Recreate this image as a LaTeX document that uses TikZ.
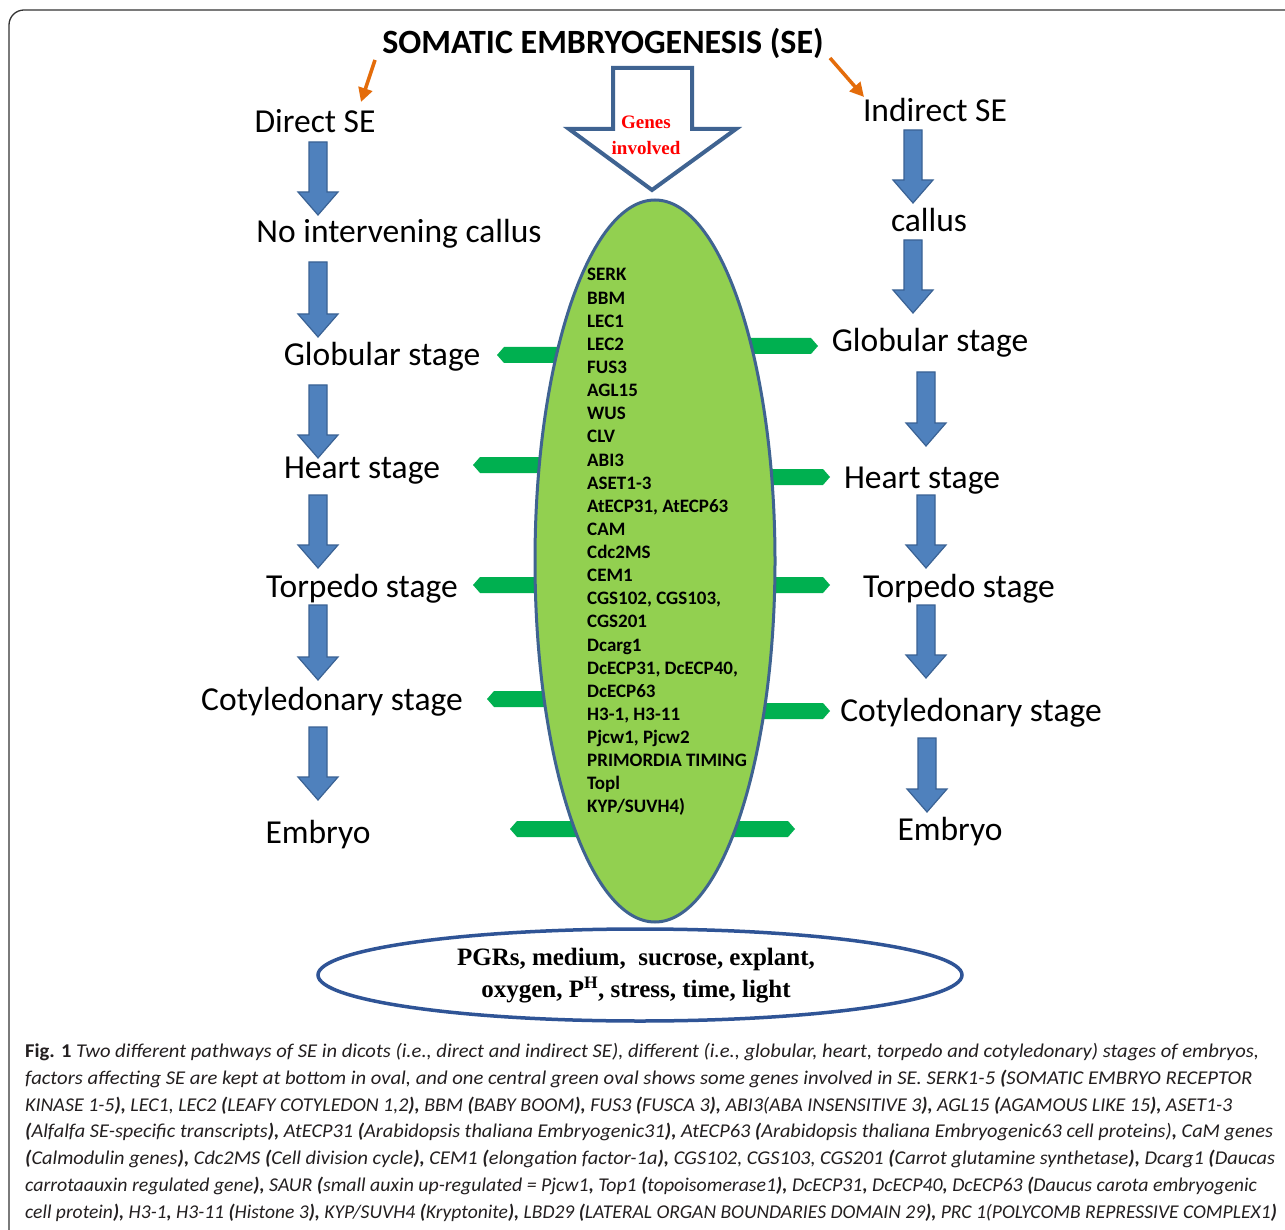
\documentclass[tikz,border=0pt]{standalone}
\usepackage{fontspec}
\setmainfont{Carlito}
\newfontfamily\tnr{Liberation Serif}
\usetikzlibrary{arrows.meta}
\definecolor{stblue}{HTML}{4F81BD}
\definecolor{stblueD}{HTML}{3A6294}
\definecolor{outlineB}{HTML}{3F6391}
\definecolor{ellG}{HTML}{92D050}
\definecolor{conG}{HTML}{00B050}
\definecolor{orng}{HTML}{E46C0A}
\definecolor{ovalB}{HTML}{2F5496}
\definecolor{capc}{HTML}{231F20}
\newcommand\bp[1]{{\bfseries #1}}
\newcommand\bluearrow[3]{%
  \draw[bluearr] (#1-9,#2) -- (#1+9,#2) -- (#1+9,#3-23) -- (#1+20,#3-23) -- (#1,#3)
    -- (#1-20,#3-23) -- (#1-9,#3-23) -- cycle;}
\newcommand\gconL[3]{%
  \fill[conG] (#1,#2) -- (#1+7,#2-8) -- (#3,#2-8) -- (#3,#2+8) -- (#1+7,#2+8) -- cycle;}
\newcommand\gconR[3]{%
  \fill[conG] (#1,#2) -- (#1-7,#2-8) -- (#3,#2-8) -- (#3,#2+8) -- (#1-7,#2+8) -- cycle;}
\begin{document}
\begin{tikzpicture}[x=1pt,y=-1pt,
  lbl/.style={font=\fontsize{33.5}{40}\selectfont, inner sep=0pt, text height=23pt, text depth=7pt},
  titlestyle/.style={font=\fontsize{34}{40}\selectfont\bfseries, inner sep=0pt},
  bluearr/.style={fill=stblue, draw=stblueD, line width=1.2pt, line join=miter},
  orarrow/.style={draw=orng, line width=3.5pt, -{Triangle[length=14pt,width=14pt]}},
  gene/.style={font=\fontsize{19}{23}\selectfont\bfseries, inner sep=0pt},
  captext/.style={font=\fontsize{19.5}{23}\selectfont\itshape, text=capc, inner sep=0pt}]
\useasboundingbox (0,0) rectangle (1285,1230);
\fill[white] (0,0) rectangle (1285,1230);
\draw[black!80, line width=1.3pt, rounded corners=15pt] (9,10) rectangle (1310,1245);

% title
\node[titlestyle] (title) at (603,43) {SOMATIC EMBRYOGENESIS (SE)};
\coordinate (oL1) at (375,60); \coordinate (oL2) at (361,102);
\coordinate (oR1) at (830,58); \coordinate (oR2) at (864,97);
\draw[orarrow] (oL1) -- (oL2);
\draw[orarrow] (oR1) -- (oR2);

% left column labels
\node[lbl] (direct) at (315,125) {Direct SE};
\node[lbl] (nocallus) at (399,235) {No intervening callus};
\node[lbl] (globL) at (382,358) {Globular stage};
\node[lbl] (heartL) at (362,470) {Heart stage};
\node[lbl] (torpL) at (362,589) {Torpedo stage};
\node[lbl] (cotyL) at (332,702) {Cotyledonary stage};
\node[lbl] (embL) at (318,835) {Embryo};
% right column labels
\node[lbl] (indirect) at (935,114) {Indirect SE};
\node[lbl] (callus) at (929,224) {callus};
\node[lbl] (globR) at (930,344) {Globular stage};
\node[lbl] (heartR) at (922,480) {Heart stage};
\node[lbl] (torpR) at (959,589) {Torpedo stage};
\node[lbl] (cotyR) at (971,713) {Cotyledonary stage};
\node[lbl] (embR) at (950,832) {Embryo};

% blue block arrows
\bluearrow{318}{142}{215}
\bluearrow{318}{262}{337}
\bluearrow{318}{385}{458}
\bluearrow{318}{495}{568}
\bluearrow{318}{605}{680}
\bluearrow{318}{727}{800}
\bluearrow{913}{130}{203}
\bluearrow{913}{240}{313}
\bluearrow{926}{372}{446}
\bluearrow{926}{495}{568}
\bluearrow{926}{605}{678}
\bluearrow{927}{738}{812}

% green connectors
\gconL{497}{355}{580}
\gconL{473}{465}{560}
\gconL{473}{585}{556}
\gconL{487}{699}{568}
\gconL{510}{829}{592}
\gconR{818}{346}{735}
\gconR{830}{477}{748}
\gconR{830}{585}{748}
\gconR{830}{711}{748}
\gconR{795}{829}{712}

% central green ellipse
\draw[fill=ellG, draw=outlineB, line width=3pt] (655,561) ellipse [x radius=120, y radius=361];
\foreach \g [count=\i] in {SERK, BBM, LEC1, LEC2, FUS3, AGL15, WUS, CLV, ABI3, ASET1-3,
  {AtECP31, AtECP63}, CAM, Cdc2MS, CEM1, {CGS102, CGS103,}, CGS201, Dcarg1,
  {DcECP31, DcECP40,}, DcECP63, {H3-1, H3-11}, {Pjcw1, Pjcw2}, PRIMORDIA TIMING, Topl, KYP/SUVH4)}
  \node[gene, anchor=base west] (g\i) at (587,{281+23.13*(\i-1)}) {\g};

% hollow arrow "Genes involved"
\draw[fill=white, draw=outlineB, line width=4pt, line join=miter]
  (613,68) -- (692,68) -- (692,129) -- (736,129) -- (652,190) -- (569,129) -- (613,129) -- cycle;
\node[font=\tnr\fontsize{19}{26}\selectfont\bfseries, text=red, align=center, inner sep=0pt] (genesinv) at (646,135) {Genes\\involved};

% bottom oval
\draw[fill=white, draw=ovalB, line width=3.5pt] (640,975) ellipse [x radius=322, y radius=46];
\node[font=\tnr\fontsize{25}{32}\selectfont\bfseries, align=center, inner sep=0pt] (factors) at (636,976)
  {PGRs, medium,\ \ sucrose, explant,\\oxygen, P\textsuperscript{H}, stress, time, light};

% caption
\node[captext, anchor=base west] (c1) at (25,1057) {\scalebox{1.055}[1]{{\upshape\bfseries Fig. 1} Two different pathways of SE in dicots (i.e., direct and indirect SE), different (i.e., globular, heart, torpedo and cotyledonary) stages of embryos,}};
\node[captext, anchor=base west] (c2) at (25,1084) {\scalebox{1.06}[1]{factors affecting SE are kept at bottom in oval, and one central green oval shows some genes involved in SE. SERK1-5 \bp{(}SOMATIC EMBRYO RECEPTOR}};
\node[captext, anchor=base west] (c3) at (25,1111) {\scalebox{1.023}[1]{KINASE 1-5\bp{),} LEC1, LEC2 \bp{(}LEAFY COTYLEDON 1,2\bp{),} BBM \bp{(}BABY BOOM\bp{),} FUS3 \bp{(}FUSCA 3\bp{),} ABI3(ABA INSENSITIVE 3\bp{),} AGL15 \bp{(}AGAMOUS LIKE 15\bp{),} ASET1-3}};
\node[captext, anchor=base west] (c4) at (25,1137) {\scalebox{1.042}[1]{\bp{(}Alfalfa SE-specific transcripts\bp{),} AtECP31 \bp{(}Arabidopsis thaliana Embryogenic31\bp{),} AtECP63 \bp{(}Arabidopsis thaliana Embryogenic63 cell proteins)\bp{,} CaM genes}};
\node[captext, anchor=base west] (c5) at (25,1164) {\scalebox{1.045}[1]{\bp{(}Calmodulin genes\bp{),} Cdc2MS \bp{(}Cell division cycle\bp{),} CEM1 \bp{(}elongation factor-1a\bp{),} CGS102, CGS103, CGS201 \bp{(}Carrot glutamine synthetase\bp{),} Dcarg1 \bp{(}Daucas}};
\node[captext, anchor=base west] (c6) at (25,1191) {\scalebox{1.017}[1]{carrotaauxin regulated gene\bp{),} SAUR \bp{(}small auxin up-regulated = Pjcw1\bp{,} Top1 \bp{(}topoisomerase1\bp{),} DcECP31\bp{,} DcECP40\bp{,} DcECP63 \bp{(}Daucus carota embryogenic}};
\node[captext, anchor=base west] (c7) at (25,1218) {\scalebox{1.004}[1]{cell protein\bp{),} H3-1\bp{,} H3-11 \bp{(}Histone 3\bp{),} KYP/SUVH4 \bp{(}Kryptonite\bp{),} LBD29 \bp{(}LATERAL ORGAN BOUNDARIES DOMAIN 29\bp{),} PRC 1(POLYCOMB REPRESSIVE COMPLEX1\bp{)}}};
\end{tikzpicture}
\end{document}
